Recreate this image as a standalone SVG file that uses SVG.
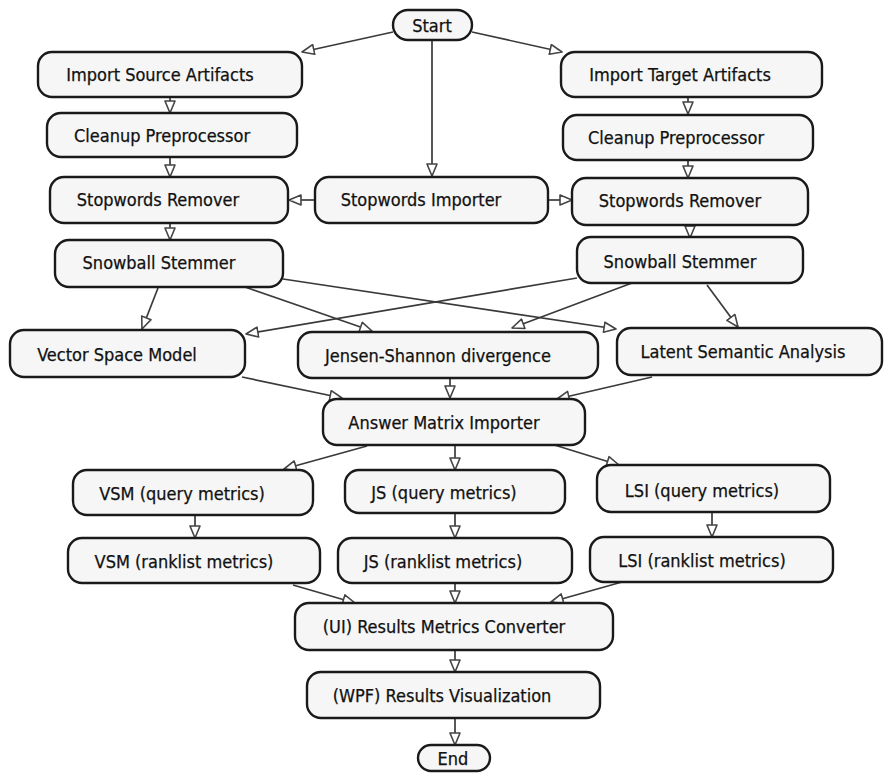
<svg xmlns="http://www.w3.org/2000/svg" width="885" height="773" viewBox="0 0 885 773">
  <style>
    .box { fill: #f6f6f6; stroke: #1a1a1a; stroke-width: 2.4; }
    .lbl { font-family: "DejaVu Sans Condensed", "DejaVu Sans", sans-serif; font-size: 18px; fill: #111; stroke: #111; stroke-width: 0.25; text-anchor: middle; }
    .edge { fill: none; stroke: #3a3a3a; stroke-width: 1.7; marker-end: url(#tri); }
  </style>
  <defs>
    <marker id="tri" markerUnits="userSpaceOnUse" markerWidth="14" markerHeight="12" viewBox="0 0 14 12" refX="13" refY="6" orient="auto">
      <path d="M1,1 L13,6 L1,11 Z" fill="#ffffff" stroke="#444" stroke-width="1.6" stroke-linejoin="round"/>
    </marker>
  </defs>
  <rect width="885" height="773" fill="#ffffff"/>

  <g id="connectors">
    <path class="edge" d="M393,32 L302,52"/>
    <path class="edge" d="M472,32 L562,52"/>
    <path class="edge" d="M432,40 L432,176"/>
    <path class="edge" d="M170,97 L170,113"/>
    <path class="edge" d="M688,97 L688,114"/>
    <path class="edge" d="M170,157 L170,177"/>
    <path class="edge" d="M688,160 L688,178"/>
    <path class="edge" d="M315,200 L289,200"/>
    <path class="edge" d="M548,200 L572,200"/>
    <path class="edge" d="M170,223 L170,240"/>
    <path class="edge" d="M690,225 L690,238"/>
    <path class="edge" d="M158,288 L142,329"/>
    <path class="edge" d="M245,287 L372,331"/>
    <path class="edge" d="M283,279 L616,329"/>
    <path class="edge" d="M577,278 L246,334"/>
    <path class="edge" d="M632,283 L512,328"/>
    <path class="edge" d="M707,285 L738,327"/>
    <path class="edge" d="M242,377 L342,398"/>
    <path class="edge" d="M450,378 L450,398"/>
    <path class="edge" d="M652,377 L557,399"/>
    <path class="edge" d="M367,446 L284,469"/>
    <path class="edge" d="M455,445 L455,470"/>
    <path class="edge" d="M548,443 L619,465"/>
    <path class="edge" d="M195,515 L195,538"/>
    <path class="edge" d="M455,513 L455,538"/>
    <path class="edge" d="M712,512 L712,537"/>
    <path class="edge" d="M293,585 L355,603"/>
    <path class="edge" d="M455,583 L455,603"/>
    <path class="edge" d="M622,582 L551,602"/>
    <path class="edge" d="M455,650 L455,672"/>
    <path class="edge" d="M455,718 L455,745"/>
  </g>

  <g id="start"><rect class="box" x="393" y="10" width="79" height="30" rx="15"/><text class="lbl" x="432" y="32">Start</text></g>
  <g id="import-source"><rect class="box" x="38" y="52" width="264" height="45" rx="14"/><text class="lbl" x="160" y="81">Import Source Artifacts</text></g>
  <g id="import-target"><rect class="box" x="561" y="52" width="261" height="45" rx="14"/><text class="lbl" x="680" y="81">Import Target Artifacts</text></g>
  <g id="cleanup-source"><rect class="box" x="47" y="113" width="250" height="44" rx="14"/><text class="lbl" x="162" y="142">Cleanup Preprocessor</text></g>
  <g id="cleanup-target"><rect class="box" x="563" y="115" width="250" height="45" rx="14"/><text class="lbl" x="676" y="144">Cleanup Preprocessor</text></g>
  <g id="stopwords-remover-source"><rect class="box" x="50" y="177" width="238" height="46" rx="14"/><text class="lbl" x="158" y="206">Stopwords Remover</text></g>
  <g id="stopwords-importer"><rect class="box" x="315" y="177" width="233" height="46" rx="14"/><text class="lbl" x="421" y="206">Stopwords Importer</text></g>
  <g id="stopwords-remover-target"><rect class="box" x="572" y="178" width="236" height="47" rx="14"/><text class="lbl" x="680" y="207">Stopwords Remover</text></g>
  <g id="stemmer-source"><rect class="box" x="55" y="240" width="228" height="47" rx="14"/><text class="lbl" x="159" y="269">Snowball Stemmer</text></g>
  <g id="stemmer-target"><rect class="box" x="577" y="237" width="226" height="46" rx="14"/><text class="lbl" x="680" y="268">Snowball Stemmer</text></g>
  <g id="vsm"><rect class="box" x="10" y="330" width="235" height="47" rx="14"/><text class="lbl" x="117" y="361">Vector Space Model</text></g>
  <g id="jsd"><rect class="box" x="298" y="332" width="300" height="46" rx="14"/><text class="lbl" x="438" y="362">Jensen-Shannon divergence</text></g>
  <g id="lsa"><rect class="box" x="617" y="328" width="265" height="47" rx="14"/><text class="lbl" x="743" y="358">Latent Semantic Analysis</text></g>
  <g id="answer-matrix"><rect class="box" x="323" y="399" width="262" height="46" rx="14"/><text class="lbl" x="444" y="429">Answer Matrix Importer</text></g>
  <g id="vsm-query"><rect class="box" x="73" y="470" width="240" height="45" rx="14"/><text class="lbl" x="182" y="500">VSM (query metrics)</text></g>
  <g id="js-query"><rect class="box" x="345" y="470" width="220" height="43" rx="14"/><text class="lbl" x="444" y="499">JS (query metrics)</text></g>
  <g id="lsi-query"><rect class="box" x="597" y="465" width="233" height="47" rx="14"/><text class="lbl" x="702" y="497">LSI (query metrics)</text></g>
  <g id="vsm-ranklist"><rect class="box" x="68" y="538" width="252" height="45" rx="14"/><text class="lbl" x="184" y="568">VSM (ranklist metrics)</text></g>
  <g id="js-ranklist"><rect class="box" x="338" y="538" width="234" height="45" rx="14"/><text class="lbl" x="443" y="568">JS (ranklist metrics)</text></g>
  <g id="lsi-ranklist"><rect class="box" x="590" y="537" width="243" height="45" rx="14"/><text class="lbl" x="702" y="567">LSI (ranklist metrics)</text></g>
  <g id="results-converter"><rect class="box" x="295" y="603" width="318" height="47" rx="14"/><text class="lbl" x="444" y="633">(UI) Results Metrics Converter</text></g>
  <g id="results-visualization"><rect class="box" x="307" y="672" width="293" height="46" rx="14"/><text class="lbl" x="442" y="702">(WPF) Results Visualization</text></g>
  <g id="end"><rect class="box" x="418" y="745" width="72" height="26" rx="13"/><text class="lbl" x="453" y="765">End</text></g>
</svg>
